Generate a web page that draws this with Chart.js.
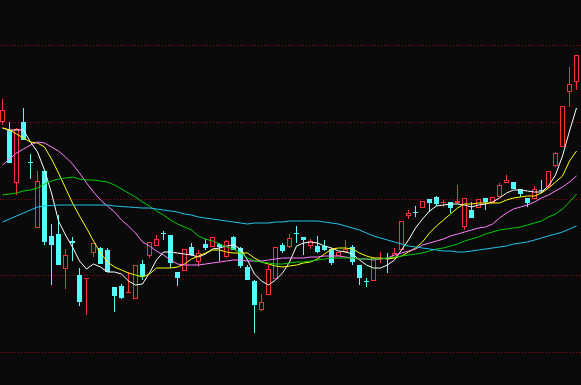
<!DOCTYPE html>
<html>
<head>
<meta charset="utf-8">
<script src="https://cdn.jsdelivr.net/npm/chart.js@4.4.0/dist/chart.umd.min.js"></script>
<style>
  html, body { margin: 0; padding: 0; background: #0a0a0a; overflow: hidden; }
  #wrap { width: 581px; height: 385px; }
</style>
</head>
<body>
<div id="wrap"><canvas id="c" width="581" height="385"></canvas></div>
<script>
// ---- data (prices) ----
const openP = [7.56,7.40,6.34,7.56,6.76,5.44,6.58,5.28,5.32,4.62,5.18,4.50,4.42,4.94,5.04,5.00,4.26,4.28,4.14,4.02,
  4.72,4.88,5.08,5.34,5.30,4.56,4.58,5.06,4.76,5.12,5.06,5.12,4.86,5.26,5.04,4.66,4.38,3.80,4.10,4.42,
  5.10,5.06,5.34,5.26,5.08,5.08,5.08,5.02,4.88,4.96,5.06,4.70,4.38,4.38,4.82,4.84,4.84,5.00,5.68,5.76,
  5.84,6.02,6.06,5.94,5.96,5.94,5.46,5.80,5.84,6.04,5.94,6.06,6.34,6.36,6.22,6.04,6.02,6.20,6.26,6.68,
  7.06,8.16,8.36];
const closeP = [7.80,6.74,7.42,7.20,6.74,6.38,5.16,5.10,4.70,4.90,5.14,3.96,4.44,5.14,4.72,4.56,4.08,4.04,4.16,4.70,
  4.48,5.16,5.22,5.32,4.74,4.44,5.02,4.90,4.94,5.04,5.26,5.06,5.18,5.00,4.68,4.40,3.90,3.96,4.62,5.06,
  4.98,5.24,5.32,5.20,5.18,4.96,5.00,4.74,4.96,5.02,4.76,4.44,4.36,4.84,4.84,4.82,4.94,5.58,5.74,5.74,
  5.98,5.94,5.92,5.96,5.84,5.98,6.04,5.64,6.02,5.96,6.06,6.30,6.40,6.22,6.12,5.94,6.22,6.18,6.58,6.94,
  7.88,8.32,8.90];
const highP = [8.02,7.56,7.44,7.84,6.92,6.58,6.58,5.52,5.70,5.02,5.26,4.64,4.44,5.14,5.06,5.04,4.26,4.32,4.56,4.70,
  4.80,5.16,5.30,5.38,5.30,4.56,5.02,5.14,5.00,5.22,5.26,5.14,5.20,5.28,5.06,4.70,4.40,4.12,4.70,5.06,
  5.14,5.32,5.48,5.26,5.22,5.28,5.20,5.04,4.96,5.20,5.10,4.70,4.44,4.86,4.96,4.94,5.04,5.58,5.80,5.88,
  5.98,6.02,6.08,6.00,5.96,6.30,6.04,5.96,6.02,6.04,6.06,6.34,6.50,6.36,6.22,6.04,6.28,6.40,6.58,6.96,
  7.88,8.66,8.90];
const lowP = [7.50,6.74,6.10,7.20,6.42,5.44,5.10,4.30,4.70,4.22,4.78,3.88,3.70,4.86,4.72,4.56,3.76,4.02,4.14,4.02,
  4.40,4.84,5.08,5.20,4.64,4.28,4.58,4.88,4.66,5.00,5.06,4.78,4.84,5.00,4.64,4.40,3.34,3.78,4.10,4.42,
  4.94,5.04,5.14,4.90,5.02,4.94,4.98,4.70,4.88,4.94,4.70,4.30,4.26,4.38,4.74,4.54,4.84,5.00,5.62,5.66,
  5.84,5.76,5.88,5.86,5.74,5.92,5.40,5.64,5.84,5.80,5.94,6.06,6.34,6.22,6.06,5.86,6.02,6.14,6.24,6.66,
  7.06,7.86,8.20];

// moving averages
const ma5 = [7.44,7.40,7.40,7.40,7.16,6.96,6.60,6.14,5.58,5.30,5.06,4.78,4.62,4.72,4.66,4.56,4.56,4.52,4.38,4.30,
  4.32,4.54,4.80,4.96,4.96,4.94,4.92,4.90,4.86,4.92,5.02,5.04,5.08,5.10,5.02,4.80,4.52,4.38,4.30,4.40,
  4.54,4.76,5.08,5.14,5.16,5.14,5.08,5.04,4.98,4.96,4.92,4.80,4.70,4.64,4.64,4.70,4.80,5.00,5.20,5.44,
  5.62,5.78,5.88,5.90,5.92,5.92,5.90,5.86,5.90,5.92,5.96,6.04,6.14,6.20,6.20,6.18,6.16,6.16,6.28,6.50,
  6.88,7.38,7.84];
const ma10 = [7.44,7.40,7.32,7.24,7.16,7.14,7.06,6.82,6.54,6.24,5.94,5.68,5.44,5.18,4.94,4.76,4.66,4.60,4.54,4.50,
  4.46,4.52,4.64,4.64,4.64,4.66,4.72,4.82,4.88,4.94,5.00,5.00,4.96,4.94,4.94,4.94,4.84,4.76,4.72,4.68,
  4.66,4.68,4.70,4.74,4.76,4.82,4.92,5.02,5.04,5.04,5.02,4.94,4.88,4.84,4.84,4.82,4.84,4.88,4.96,5.04,
  5.16,5.34,5.48,5.60,5.72,5.84,5.92,5.92,5.94,5.94,5.94,5.94,6.00,6.04,6.06,6.08,6.08,6.14,6.24,6.36,
  6.48,6.78,6.98];
const ma20 = [6.70,6.82,6.94,7.02,7.10,7.16,7.14,7.06,6.98,6.86,6.72,6.54,6.34,6.16,6.00,5.88,5.76,5.60,5.48,5.34,
  5.16,5.08,4.98,4.90,4.80,4.72,4.70,4.70,4.70,4.72,4.74,4.76,4.78,4.80,4.80,4.78,4.78,4.78,4.80,4.82,
  4.84,4.84,4.84,4.84,4.86,4.86,4.88,4.88,4.88,4.86,4.84,4.82,4.82,4.80,4.82,4.84,4.90,4.94,4.98,5.02,
  5.10,5.14,5.18,5.22,5.28,5.32,5.36,5.40,5.44,5.46,5.52,5.64,5.74,5.82,5.86,5.90,5.96,6.04,6.10,6.18,
  6.26,6.36,6.48];
const ma30 = [6.10,6.12,6.14,6.18,6.20,6.24,6.32,6.38,6.42,6.44,6.46,6.42,6.40,6.40,6.38,6.36,6.30,6.22,6.14,6.06,
  5.96,5.88,5.78,5.70,5.60,5.52,5.46,5.40,5.28,5.22,5.18,5.12,5.06,5.02,4.94,4.84,4.78,4.76,4.74,4.72,
  4.72,4.74,4.76,4.76,4.78,4.80,4.82,4.84,4.84,4.84,4.84,4.82,4.82,4.82,4.82,4.84,4.86,4.88,4.90,4.92,
  4.94,4.98,5.02,5.04,5.08,5.12,5.18,5.22,5.26,5.32,5.36,5.40,5.42,5.44,5.46,5.50,5.54,5.58,5.66,5.72,
  5.82,5.96,6.12];
const ma60 = [5.56,5.62,5.68,5.74,5.80,5.86,5.88,5.89,5.90,5.90,5.90,5.90,5.90,5.90,5.90,5.90,5.88,5.87,5.86,5.85,
  5.84,5.84,5.82,5.80,5.78,5.76,5.72,5.70,5.66,5.64,5.62,5.60,5.58,5.56,5.54,5.52,5.54,5.54,5.54,5.56,
  5.56,5.58,5.58,5.58,5.58,5.58,5.56,5.54,5.52,5.48,5.44,5.40,5.34,5.28,5.24,5.20,5.16,5.12,5.08,5.06,
  5.04,5.02,5.00,4.98,4.98,4.96,4.96,4.98,5.00,5.02,5.04,5.06,5.08,5.12,5.14,5.16,5.20,5.24,5.28,5.32,
  5.36,5.42,5.48];

// horizontal dotted reference levels
const gridLevels = [2.966, 4.498, 6.03, 7.562, 9.094];

// ---- colours ----
const BG = '#0a0a0a';
const UP = '#ff3232';
const DOWN = '#54ffff';

const isUp = openP.map((o, i) => closeP[i] > o);

const pts = arr => arr.map((v, i) => ({ x: i, y: v }));

const gridPlugin = {
  id: 'dotGrid',
  beforeDatasetsDraw(chart) {
    const { ctx, chartArea, scales } = chart;
    ctx.save();
    ctx.strokeStyle = '#8a1010';
    ctx.lineWidth = 1;
    ctx.setLineDash([1, 2]);
    gridLevels.forEach(v => {
      const y = Math.round(scales.y.getPixelForValue(v)) + 0.5;
      ctx.beginPath();
      ctx.moveTo(chartArea.left, y);
      ctx.lineTo(chartArea.right, y);
      ctx.stroke();
    });
    ctx.restore();
  }
};

const bgPlugin = {
  id: 'bg',
  beforeDraw(chart) {
    const { ctx, width, height } = chart;
    ctx.save();
    ctx.fillStyle = BG;
    ctx.fillRect(0, 0, width, height);
    ctx.restore();
  }
};

const lineDs = (label, arr, color) => ({
  type: 'line', label, data: pts(arr), borderColor: color, borderWidth: 1,
  pointRadius: 0, tension: 0, fill: false, order: 0, clip: false
});

new Chart(document.getElementById('c'), {
  type: 'bar',
  data: {
    datasets: [
      lineDs('MA60', ma60, '#22c4ee'),
      lineDs('MA30', ma30, '#00d000'),
      lineDs('MA20', ma20, '#ff80ff'),
      lineDs('MA10', ma10, '#ffff00'),
      lineDs('MA5', ma5, '#ffffff'),
      {
        type: 'bar', label: 'body',
        data: openP.map((o, i) => ({ x: i, y: [o, closeP[i]] })),
        backgroundColor: isUp.map(u => u ? BG : DOWN),
        borderColor: isUp.map(u => u ? UP : DOWN),
        borderWidth: 1, borderSkipped: false, inflateAmount: 0,
        barThickness: 5, grouped: false, order: 1
      },
      {
        type: 'bar', label: 'wick',
        data: lowP.map((l, i) => ({ x: i, y: [l, highP[i]] })),
        backgroundColor: isUp.map(u => u ? UP : DOWN),
        borderWidth: 0, inflateAmount: 0,
        barThickness: 1, grouped: false, order: 2
      }
    ]
  },
  options: {
    responsive: false,
    animation: false,
    devicePixelRatio: 1,
    layout: { padding: 0 },
    plugins: { legend: { display: false }, tooltip: { enabled: false } },
    scales: {
      x: { type: 'linear', display: false, offset: false, bounds: 'ticks',
           min: -2.5 / 7, max: 83 - 2.5 / 7 },
      y: { type: 'linear', display: false, min: 2.3, max: 10 }
    }
  },
  plugins: [bgPlugin, gridPlugin]
});
</script>
</body>
</html>
